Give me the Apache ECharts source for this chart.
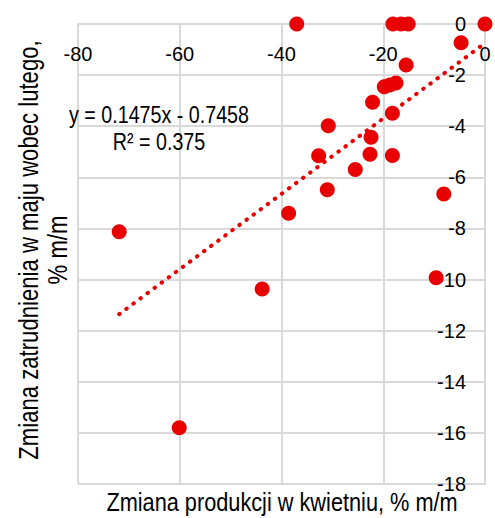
<!DOCTYPE html>
<html>
<head>
<meta charset="utf-8">
<script src="https://cdn.jsdelivr.net/npm/echarts@6/dist/echarts.min.js"></script>
<style>
html,body{margin:0;padding:0;background:#fff;}
#chart{width:495px;height:518px;}
</style>
</head>
<body>
<div id="chart"></div>
<script>
// Data
var productionChange = [-37.0, -18.1, -16.5, -15.1, 0.0, -4.7, -15.5, -19.8, -18.7, -17.5, -22.1, -18.2, -30.8, -22.4, -32.7, -22.6, -18.2, -25.5, -31.0, -8.1, -38.6, -71.9, -43.8, -9.6, -60.1];
var employmentChange = [0.0, 0.0, 0.0, 0.0, 0.0, -0.73, -1.6, -2.46, -2.39, -2.31, -3.06, -3.49, -3.98, -4.43, -5.16, -5.10, -5.15, -5.69, -6.49, -6.65, -7.41, -8.13, -10.37, -9.93, -15.8];
var trendSlope = 0.1475;
var trendIntercept = -0.7458;
var equationText = 'y = 0.1475x - 0.7458';
var r2Text = 'R² = 0.375';
var xAxisTitle = 'Zmiana produkcji w kwietniu, % m/m';
var yAxisTitle = 'Zmiana zatrudnienia w maju wobec lutego,\n% m/m';

var FONT = "'Liberation Sans', Arial, sans-serif";
var NARROW = 0.82;

var points = productionChange.map(function (x, i) { return [x, employmentChange[i]]; });
var xMin = Math.min.apply(null, productionChange);
var xMax = Math.max.apply(null, productionChange);
var trend = [[xMin, trendSlope * xMin + trendIntercept], [xMax, trendSlope * xMax + trendIntercept]];

var chart = echarts.init(document.getElementById('chart'), null, {renderer: 'svg'});
chart.setOption({
  animation: false,
  backgroundColor: '#ffffff',
  grid: {left: 78, right: 10, top: 24, bottom: 34, containLabel: false},
  xAxis: {
    type: 'value', position: 'top', min: -80, max: 0, interval: 20,
    axisLine: {show: true, onZero: false, lineStyle: {color: '#d9d9d9', width: 2}},
    axisTick: {show: false},
    axisLabel: {inside: true, margin: 20, color: '#000', fontFamily: FONT, fontSize: 20},
    splitLine: {show: true, lineStyle: {color: '#d9d9d9', width: 2}}
  },
  yAxis: {
    type: 'value', position: 'right', min: -18, max: 0, interval: 2,
    axisLine: {show: true, onZero: false, lineStyle: {color: '#d9d9d9', width: 2}},
    axisTick: {show: false},
    axisLabel: {inside: true, margin: 19, color: '#000', fontFamily: FONT, fontSize: 20},
    splitLine: {show: true, lineStyle: {color: '#d9d9d9', width: 2}}
  },
  series: [
    {
      type: 'line', data: trend, symbol: 'none', silent: true, z: 3,
      lineStyle: {color: '#e60000', width: 4, type: [0.5, 8.3], cap: 'round'}
    },
    {
      type: 'scatter', data: points, symbol: 'circle', symbolSize: 15, z: 4,
      itemStyle: {color: '#e80000', opacity: 1}
    }
  ],
  graphic: [
    {
      type: 'text', x: 159, y: 128, z: 10, scaleX: NARROW,
      style: {text: equationText + '\n' + r2Text, fill: '#000', font: '24px ' + FONT,
        align: 'center', verticalAlign: 'middle', lineHeight: 27}
    },
    {
      type: 'text', x: 282, y: 502, z: 10, scaleX: NARROW,
      style: {text: xAxisTitle, fill: '#000', font: '26.5px ' + FONT,
        align: 'center', verticalAlign: 'middle'}
    },
    {
      type: 'text', x: 43, y: 250, rotation: Math.PI / 2, z: 10, scaleX: NARROW,
      style: {text: yAxisTitle, fill: '#000', font: '27px ' + FONT,
        align: 'center', verticalAlign: 'middle', lineHeight: 29}
    }
  ]
});
</script>
</body>
</html>
